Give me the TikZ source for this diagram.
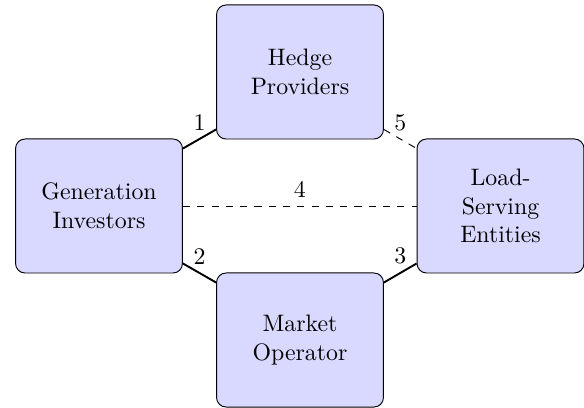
\documentclass[tikz,border=0pt]{standalone}
\usetikzlibrary{calc}
\begin{document}
\begin{tikzpicture}[x=0.42pt,y=0.42pt,
  box/.style={draw, fill=blue!15, rounded corners=4pt, minimum width=70.1pt,
    minimum height=56.3pt, align=center, text width=50pt, inner sep=2pt},
  link/.style={thick},
  dlink/.style={dashed},
  lbl/.style={midway, above}]
\useasboundingbox (0,0) rectangle (584,407);
\node[box] (HP) at (300,335) {Hedge\\Providers};
\node[box] (GI) at (99,201) {Generation\\Investors};
\node[box] (LSE) at (500.5,201) {Load-\\Serving\\Entities};
\node[box] (MO) at (300,67) {Market\\Operator};
\draw[link] ($(GI.north east)+(0,-10)$) -- ($(HP.south west)+(0,10)$) node[lbl] {1};
\draw[link] ($(GI.south east)+(0,10)$) -- ($(MO.north west)+(0,-10)$) node[lbl] {2};
\draw[link] ($(MO.north east)+(0,-10)$) -- ($(LSE.south west)+(0,10)$) node[lbl] {3};
\draw[dlink] (GI.east) -- (LSE.west) node[lbl] {4};
\draw[dlink] ($(HP.south east)+(0,10)$) -- ($(LSE.north west)+(0,-10)$) node[lbl] {5};
\end{tikzpicture}
\end{document}
